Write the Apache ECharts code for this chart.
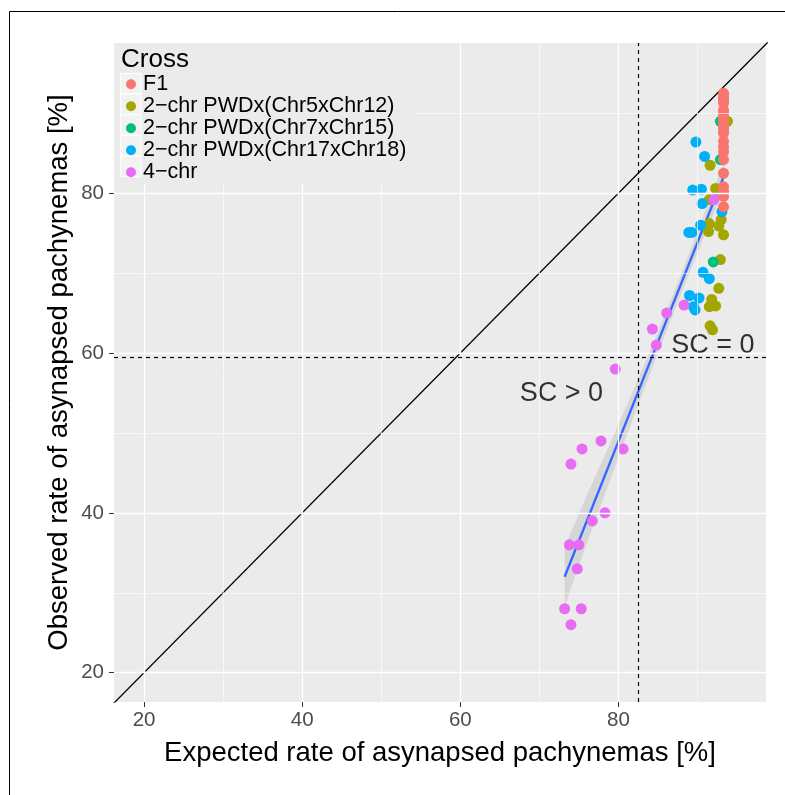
<!DOCTYPE html>
<html>
<head>
<meta charset="utf-8">
<script src="https://cdn.jsdelivr.net/npm/echarts@6/dist/echarts.min.js"></script>
<style>
  html, body { margin: 0; padding: 0; background: #fff; }
  #chart { width: 785px; height: 795px; }
</style>
</head>
<body>
<div id="chart"></div>
<script>
// category names (legend order)
const crosses = ['F1', '2\u2212chr PWDx(Chr5xChr12)', '2\u2212chr PWDx(Chr7xChr15)', '2\u2212chr PWDx(Chr17xChr18)', '4\u2212chr'];
const crossColors = ['#F8766D', '#A3A500', '#00BF7D', '#00B0F6', '#E76BF3'];

// [expected %, observed %]
const f1Points = [
  [93.3, 92.5], [93.3, 92.1], [93.3, 91.7], [93.3, 91.3], [93.3, 90.4], [93.3, 90.0],
  [93.3, 89.6], [93.3, 89.2], [93.3, 88.8], [93.3, 88.3], [93.3, 87.9], [93.3, 87.5],
  [93.3, 86.5], [93.3, 85.8], [93.3, 85.2], [93.3, 84.2], [93.3, 82.5], [93.3, 80.8],
  [93.3, 80.2], [93.3, 79.6], [93.3, 78.3]
];
const chr5x12Points = [
  [93.8, 89.0], [91.6, 83.5], [92.3, 80.6], [91.5, 79.2], [93.0, 76.7], [91.5, 76.2],
  [92.7, 75.9], [91.4, 75.2], [93.3, 74.8], [92.9, 71.7], [92.7, 68.1], [91.8, 66.7],
  [91.5, 65.8], [92.3, 65.9], [91.6, 63.4], [91.9, 62.9]
];
const chr7x15Points = [
  [92.9, 89.0], [92.9, 84.2], [92.0, 71.4]
];
const chr17x18Points = [
  [89.8, 86.4], [90.9, 84.6], [89.4, 80.4], [90.5, 80.5], [90.6, 78.7], [93.1, 77.7],
  [90.4, 76.0], [88.9, 75.1], [89.3, 75.1], [90.7, 70.1], [91.5, 69.3], [89.0, 67.2],
  [90.2, 66.9], [89.5, 65.8], [89.7, 65.4]
];
const chr4Points = [
  [74.0, 46.1], [75.4, 48.0], [77.8, 49.0], [80.6, 48.0], [78.3, 40.0], [76.7, 39.0],
  [73.8, 36.0], [75.0, 36.0], [74.8, 33.0], [73.2, 28.0], [75.3, 28.0], [74.0, 26.0],
  [79.6, 58.0], [84.8, 61.0], [84.3, 63.0], [86.1, 65.0], [88.3, 66.0], [92.1, 79.2]
];

// linear fit and its confidence band
const fitLine = [[73.2, 32.0], [93.4, 82.3]];
const bandX = [73.2, 76, 79, 82, 85, 88, 91, 93.4];
const bandLow = [28.3, 36.2, 44.2, 52.2, 60.0, 67.6, 75.0, 80.6];
const bandHigh = [35.7, 42.2, 48.8, 55.6, 62.6, 70.0, 77.8, 84.0];

// reference lines
const sc0Expected = 82.5;
const sc0Observed = 59.5;
const identityLine = [[16, 16], [99, 99]];

const xTicks = [20, 40, 60, 80];
const yTicks = [20, 40, 60, 80];
const minorX = [30, 50, 70, 90];
const minorY = [30, 50, 70, 90];

const annotations = [[91.96, 61.0, 'SC = 0'], [72.8, 54.9, 'SC > 0']];

const FONT = '"Liberation Sans", Arial, Helvetica, sans-serif';

const chart = echarts.init(document.getElementById('chart'));

const gridLines = [];
xTicks.forEach(v => gridLines.push({ xAxis: v, lineStyle: { width: 1.3 } }));
minorX.forEach(v => gridLines.push({ xAxis: v, lineStyle: { width: 0.6 } }));
yTicks.forEach(v => gridLines.push({ yAxis: v, lineStyle: { width: 1.3 } }));
minorY.forEach(v => gridLines.push({ yAxis: v, lineStyle: { width: 0.6 } }));

const pointSeries = (name, data, color, z) => ({
  name: name,
  type: 'scatter',
  data: data,
  symbol: 'circle',
  symbolSize: 11,
  itemStyle: { color: color, opacity: 1 },
  z: z,
  silent: true
});

const keyTop = 73.3;
const keyH = 20.7;
const keyBoxes = crosses.map((c, i) => ({
  type: 'rect',
  zlevel: 1,
  z: 3,
  silent: true,
  shape: { x: 120.7, y: keyTop + i * keyH, width: 20.5, height: keyH },
  style: { fill: '#F2F2F2', stroke: '#FFFFFF', lineWidth: 1 }
}));

chart.setOption({
  animation: false,
  backgroundColor: '#FFFFFF',
  grid: {
    left: 114, top: 43, right: 19, bottom: 93,
    show: true, backgroundColor: '#EBEBEB', borderWidth: 0
  },
  xAxis: {
    type: 'value',
    min: 16.2, max: 98.67,
    name: 'Expected rate of asynapsed pachynemas [%]',
    nameLocation: 'middle',
    nameGap: 37,
    nameMoveOverlap: false,
    nameTextStyle: { fontSize: 27.5, color: '#000', fontFamily: FONT },
    axisLine: { show: false },
    splitLine: { show: false },
    axisTick: { show: true, customValues: xTicks, length: 5, lineStyle: { color: '#333', width: 1 } },
    axisLabel: { customValues: xTicks, margin: 8, fontSize: 20.5, color: '#4D4D4D', fontFamily: FONT }
  },
  yAxis: {
    type: 'value',
    min: 16.33, max: 98.8,
    name: 'Observed rate of asynapsed pachynemas [%]',
    nameLocation: 'middle',
    nameGap: 41,
    nameMoveOverlap: false,
    nameTextStyle: { fontSize: 27.5, color: '#000', fontFamily: FONT },
    axisLine: { show: false },
    splitLine: { show: false },
    axisTick: { show: true, customValues: yTicks, length: 5, lineStyle: { color: '#333', width: 1 } },
    axisLabel: { customValues: yTicks, margin: 10, fontSize: 20.5, color: '#4D4D4D', fontFamily: FONT }
  },
  legend: {
    data: crosses,
    orient: 'vertical',
    left: 126,
    top: keyTop,
    padding: 0,
    itemGap: 0,
    itemWidth: 10,
    itemHeight: 10,
    icon: 'circle',
    selectedMode: false,
    zlevel: 1,
    z: 5,
    textStyle: { fontSize: 21.5, lineHeight: keyH, color: '#000', fontFamily: FONT, padding: [0, 0, 0, 2] }
  },
  graphic: [
    {
      type: 'rect', zlevel: 1, z: 2, silent: true,
      shape: { x: 114, y: 43.3, width: 299, height: 141 },
      style: { fill: '#EBEBEB' }
    },
    ...keyBoxes,
    {
      type: 'text', zlevel: 1, z: 5, silent: true,
      left: 121, top: 47,
      style: { text: 'Cross', fontSize: 26, fill: '#000', fontFamily: FONT }
    },
    { type: 'line', zlevel: 1, z: 10, silent: true, shape: { x1: 9.5, y1: 11.5, x2: 785, y2: 11.5 }, style: { stroke: '#000', lineWidth: 1 } },
    { type: 'line', zlevel: 1, z: 10, silent: true, shape: { x1: 9.5, y1: 11.5, x2: 9.5, y2: 795 }, style: { stroke: '#000', lineWidth: 1 } }
  ],
  series: [
    {
      name: 'gridlines',
      type: 'line',
      data: [],
      z: 1,
      silent: true,
      markLine: {
        silent: true,
        symbol: ['none', 'none'],
        label: { show: false },
        lineStyle: { color: '#FFFFFF', type: 'solid' },
        data: gridLines
      }
    },
    {
      name: 'band',
      type: 'custom',
      z: 2,
      silent: true,
      data: [0],
      renderItem: (params, api) => {
        const pts = [];
        bandX.forEach((x, i) => pts.push(api.coord([x, bandHigh[i]])));
        for (let i = bandX.length - 1; i >= 0; i--) pts.push(api.coord([bandX[i], bandLow[i]]));
        return {
          type: 'polygon',
          shape: { points: pts },
          style: { fill: 'rgba(153,153,153,0.25)' }
        };
      }
    },
    {
      name: 'identity',
      type: 'line',
      data: identityLine,
      symbol: 'none',
      clip: true,
      z: 2,
      silent: true,
      lineStyle: { color: '#000', width: 1.3 }
    },
    {
      name: 'sc0',
      type: 'line',
      data: [],
      z: 2,
      silent: true,
      markLine: {
        silent: true,
        symbol: ['none', 'none'],
        label: { show: false },
        lineStyle: { color: '#000', type: [4, 4], width: 1.2 },
        data: [{ xAxis: sc0Expected }, { yAxis: sc0Observed }]
      }
    },
    {
      name: 'fit',
      type: 'line',
      data: fitLine,
      symbol: 'none',
      z: 2,
      silent: true,
      lineStyle: { color: '#3366FF', width: 2.3 }
    },
    pointSeries(crosses[1], chr5x12Points, crossColors[1], 3),
    pointSeries(crosses[2], chr7x15Points, crossColors[2], 3),
    pointSeries(crosses[3], chr17x18Points, crossColors[3], 3),
    pointSeries(crosses[4], chr4Points, crossColors[4], 3),
    pointSeries(crosses[0], f1Points, crossColors[0], 3),
    {
      name: 'annotations',
      type: 'scatter',
      data: annotations,
      symbolSize: 0,
      z: 4,
      silent: true,
      label: {
        show: true,
        position: 'inside',
        formatter: p => p.value[2],
        fontSize: 27,
        color: '#000',
        fontFamily: FONT
      }
    }
  ]
});
</script>
</body>
</html>
